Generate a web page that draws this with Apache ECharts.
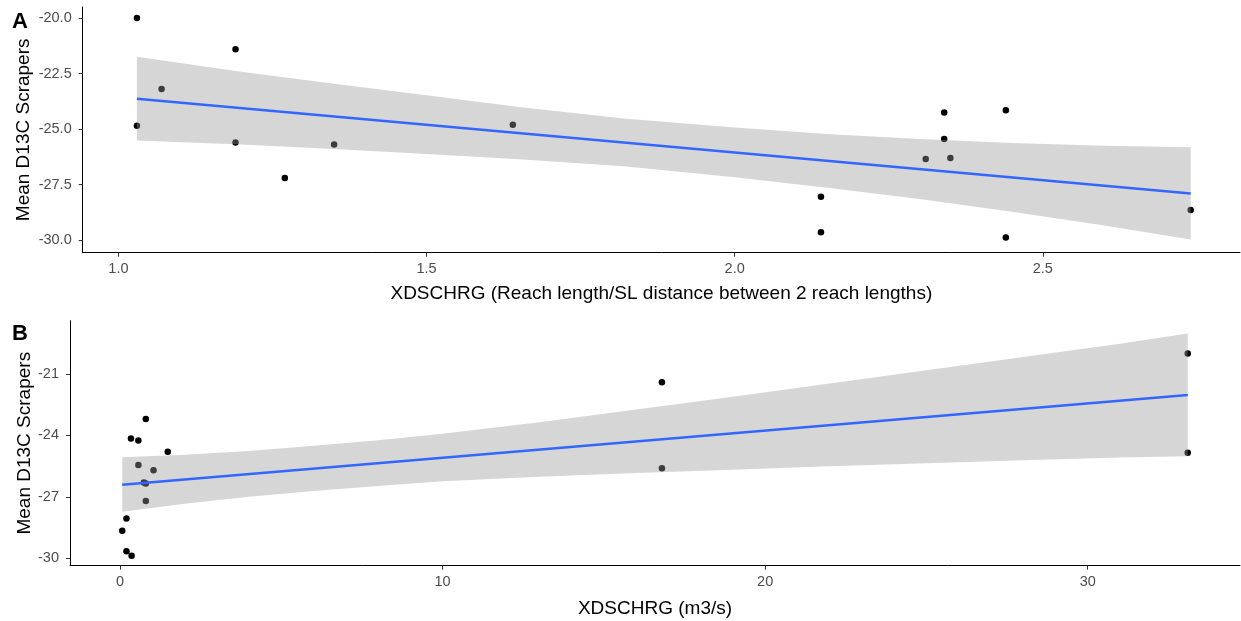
<!DOCTYPE html>
<html>
<head>
<meta charset="utf-8">
<script src="https://cdn.jsdelivr.net/npm/echarts@6/dist/echarts.min.js"></script>
<style>
html,body{margin:0;padding:0;background:#fff;}
#chart{width:1241px;height:621px;}
</style>
</head>
<body>
<div id="chart"></div>
<script>
// ---- data ----
const meanD13C = [-20.0, -21.4, -23.2, -24.85, -25.6, -25.7, -27.2, -24.8, -28.05, -29.65, -24.25, -24.15, -25.45, -26.35, -26.3, -28.65, -29.88];
const reachRatio = [1.03, 1.19, 1.07, 1.03, 1.19, 1.35, 1.27, 1.64, 2.14, 2.14, 2.34, 2.44, 2.34, 2.31, 2.35, 2.74, 2.44];
const discharge = [33.1, 16.8, 0.80, 33.1, 16.8, 1.04, 0.80, 1.48, 0.20, 0.20, 0.57, 0.34, 0.57, 0.80, 0.74, 0.07, 0.36];

const fitA_x = [1.03, 2.74];
const fitA_y = [-23.63, -27.90];
const bandA_x  = [1.03, 1.19, 1.35, 1.50, 1.65, 1.82, 2.00, 2.15, 2.30, 2.45, 2.60, 2.74];
const bandA_lo = [-25.52, -25.68, -25.90, -26.12, -26.36, -26.68, -27.17, -27.64, -28.15, -28.73, -29.35, -29.98];
const bandA_hi = [-21.74, -22.38, -22.96, -23.48, -24.00, -24.52, -24.93, -25.22, -25.45, -25.63, -25.75, -25.82];

const fitB_x = [0.07, 33.1];
const fitB_y = [-26.41, -22.03];
const bandB_x  = [0.07, 2, 4, 6, 8, 10, 13, 16, 19, 22, 25, 28, 31, 33.1];
const bandB_lo = [-27.73, -27.34, -27.00, -26.71, -26.47, -26.24, -26.02, -25.84, -25.67, -25.51, -25.36, -25.21, -25.08, -25.02];
const bandB_hi = [-25.07, -24.94, -24.76, -24.51, -24.23, -23.92, -23.36, -22.74, -22.11, -21.47, -20.82, -20.17, -19.52, -19.02];

const ticksA_x = [1.0, 1.5, 2.0, 2.5];
const ticksA_y = [-30.0, -27.5, -25.0, -22.5, -20.0];
const ticksB_x = [0, 10, 20, 30];
const ticksB_y = [-30, -27, -24, -21];

const panelLabels = ['A', 'B'];
const yTitle = 'Mean D13C Scrapers';
const xTitleA = 'XDSCHRG (Reach length/SL distance between 2 reach lengths)';
const xTitleB = 'XDSCHRG (m3/s)';

// ---- helpers ----
const FONT = "'Liberation Sans', Arial, sans-serif";
function zip(a, b) { return a.map((v, i) => [v, b[i]]); }
function bandData(xs, lo, hi) { return xs.map((v, i) => [v, lo[i], hi[i]]); }

function bandRenderer(xs, lo, hi) {
  return function (params, api) {
    if (params.dataIndex !== 0) return;
    const pts = [];
    for (let i = 0; i < xs.length; i++) pts.push(api.coord([xs[i], hi[i]]));
    for (let i = xs.length - 1; i >= 0; i--) pts.push(api.coord([xs[i], lo[i]]));
    return {
      type: 'polygon',
      shape: { points: pts },
      style: { fill: 'rgba(153,153,153,0.4)', stroke: null }
    };
  };
}

function xAxisCfg(gridIndex, min, max, ticks, fmt, title, gap) {
  return {
    type: 'value', gridIndex, min, max,
    splitLine: { show: false },
    axisLine: { show: true, onZero: false, lineStyle: { color: '#000', width: 1 } },
    axisTick: { show: true, customValues: ticks, length: 4, lineStyle: { color: '#333' } },
    axisLabel: { customValues: ticks, formatter: fmt, color: '#4d4d4d', fontSize: 14.5, fontFamily: FONT, margin: 9 },
    name: title, nameLocation: 'middle', nameGap: gap,
    nameTextStyle: { color: '#000', fontSize: 19, fontFamily: FONT }
  };
}
function yAxisCfg(gridIndex, min, max, ticks, fmt, gap) {
  return {
    type: 'value', gridIndex, min, max,
    splitLine: { show: false },
    axisLine: { show: true, onZero: false, lineStyle: { color: '#000', width: 1 } },
    axisTick: { show: true, customValues: ticks, length: 4, lineStyle: { color: '#333' } },
    axisLabel: { customValues: ticks, formatter: fmt, color: '#4d4d4d', fontSize: 14.5, fontFamily: FONT, margin: 11 },
    name: yTitle, nameLocation: 'middle', nameRotate: 90, nameGap: gap, nameMoveOverlap: false,
    nameTextStyle: { color: '#000', fontSize: 19, fontFamily: FONT }
  };
}

const chart = echarts.init(document.getElementById('chart'), null, { renderer: 'canvas' });
chart.setOption({
  animation: false,
  backgroundColor: '#fff',
  grid: [
    { left: 82.7, top: 7, width: 1157.3, height: 245.7 },
    { left: 70, top: 320.7, width: 1170, height: 245 }
  ],
  xAxis: [
    xAxisCfg(0, 0.942, 2.82, ticksA_x, v => v.toFixed(1), xTitleA, 32),
    xAxisCfg(1, -1.55, 34.72, ticksB_x, v => String(v), xTitleB, 34)
  ],
  yAxis: [
    yAxisCfg(0, -30.57, -19.5, ticksA_y, v => v.toFixed(1), 49),
    yAxisCfg(1, -30.36, -18.40, ticksB_y, v => String(v), 36)
  ],
  graphic: [
    { type: 'text', left: 12, top: 11, style: { text: panelLabels[0], fontSize: 22, fontWeight: 'bold', fontFamily: FONT, fill: '#000' } },
    { type: 'text', left: 12, top: 323, style: { text: panelLabels[1], fontSize: 22, fontWeight: 'bold', fontFamily: FONT, fill: '#000' } }
  ],
  series: [
    { type: 'scatter', xAxisIndex: 0, yAxisIndex: 0, data: zip(reachRatio, meanD13C), symbolSize: 6.5, itemStyle: { color: '#000', opacity: 1 }, z: 2 },
    { type: 'custom', xAxisIndex: 0, yAxisIndex: 0, data: bandData(bandA_x, bandA_lo, bandA_hi), renderItem: bandRenderer(bandA_x, bandA_lo, bandA_hi), z: 3, silent: true },
    { type: 'line', xAxisIndex: 0, yAxisIndex: 0, data: zip(fitA_x, fitA_y), showSymbol: false, lineStyle: { color: '#3366FF', width: 2.5 }, z: 4 },

    { type: 'scatter', xAxisIndex: 1, yAxisIndex: 1, data: zip(discharge, meanD13C), symbolSize: 6.5, itemStyle: { color: '#000', opacity: 1 }, z: 2 },
    { type: 'custom', xAxisIndex: 1, yAxisIndex: 1, data: bandData(bandB_x, bandB_lo, bandB_hi), renderItem: bandRenderer(bandB_x, bandB_lo, bandB_hi), z: 3, silent: true },
    { type: 'line', xAxisIndex: 1, yAxisIndex: 1, data: zip(fitB_x, fitB_y), showSymbol: false, lineStyle: { color: '#3366FF', width: 2.5 }, z: 4 }
  ]
});
</script>
</body>
</html>
